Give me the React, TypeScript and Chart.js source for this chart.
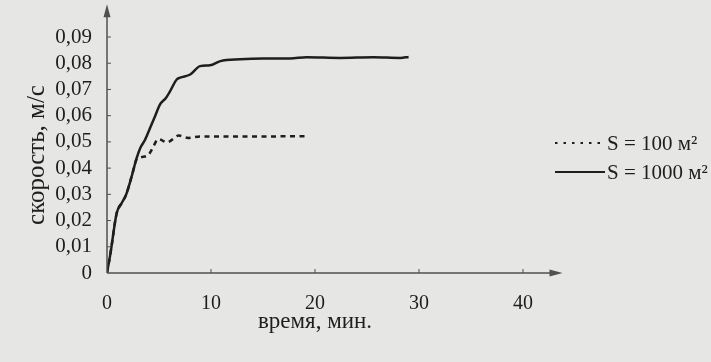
import React, { useEffect, useRef } from "react";
import { Chart, registerables } from "chart.js";

Chart.register(...registerables);

// время, мин.
const timeLarge = [0, 0.33, 0.93, 1.4, 1.83, 2.37, 2.85, 3.2, 3.66, 4.14, 4.62, 5.1, 5.68, 6.06, 6.7, 7.03, 8.0, 8.95, 9.9, 10.9, 12.8, 15, 17.6, 19.2, 22.4, 25.6, 28.2, 29];
const speedLarge = [0, 0.0074, 0.0228, 0.0266, 0.0298, 0.0368, 0.0438, 0.0477, 0.0508, 0.0553, 0.0598, 0.0643, 0.0668, 0.0693, 0.0738, 0.0745, 0.0757, 0.0789, 0.0792, 0.0808, 0.0815, 0.0818, 0.0818, 0.0823, 0.082, 0.0823, 0.082, 0.0824];

const timeSmall = [0, 0.33, 0.93, 1.4, 1.83, 2.37, 2.85, 3.3, 4.0, 4.3, 4.96, 5.77, 6.9, 7.8, 8.95, 10.2, 12.8, 16, 19.2];
const speedSmall = [0, 0.0074, 0.0228, 0.0266, 0.0298, 0.0368, 0.0434, 0.0442, 0.0451, 0.047, 0.0511, 0.0498, 0.0524, 0.0515, 0.0521, 0.0521, 0.0521, 0.0521, 0.0522];

const seriesLabels = ["S = 100 м²", "S = 1000 м²"];
const xTicks = [0, 10, 20, 30, 40];
const yTicks = [0, 0.01, 0.02, 0.03, 0.04, 0.05, 0.06, 0.07, 0.08, 0.09];
const xTitle = "время, мин.";
const yTitle = "скорость, м/с";

const INK = "#1e1e1e";
const AXIS = "#505050";
const BG = "#e6e6e4";
const FONT = "'Liberation Serif', 'Times New Roman', serif";

const axesPlugin = {
  id: "axesArrows",
  afterDraw(chart: any) {
    const { ctx, scales } = chart;
    const x = scales.x;
    const y = scales.y;
    const x0 = x.getPixelForValue(0);
    const y0 = y.getPixelForValue(0);
    const xEnd = x.getPixelForValue(43.8);
    const yEnd = y.getPixelForValue(0.1025);
    ctx.save();
    ctx.strokeStyle = AXIS;
    ctx.fillStyle = AXIS;
    ctx.lineWidth = 1.5;
    ctx.beginPath();
    ctx.moveTo(x0, y0);
    ctx.lineTo(xEnd - 6, y0);
    ctx.moveTo(x0, y0);
    ctx.lineTo(x0, yEnd + 6);
    ctx.stroke();
    // arrows
    ctx.beginPath();
    ctx.moveTo(xEnd, y0);
    ctx.lineTo(xEnd - 13, y0 - 3.5);
    ctx.lineTo(xEnd - 13, y0 + 3.5);
    ctx.closePath();
    ctx.fill();
    ctx.beginPath();
    ctx.moveTo(x0, yEnd);
    ctx.lineTo(x0 - 3.5, yEnd + 13);
    ctx.lineTo(x0 + 3.5, yEnd + 13);
    ctx.closePath();
    ctx.fill();
    // inward tick marks
    ctx.lineWidth = 1;
    ctx.beginPath();
    yTicks.forEach((v) => {
      if (v === 0) return;
      const py = y.getPixelForValue(v);
      ctx.moveTo(x0, py);
      ctx.lineTo(x0 + 4, py);
    });
    xTicks.forEach((v) => {
      if (v === 0) return;
      const px = x.getPixelForValue(v);
      ctx.moveTo(px, y0);
      ctx.lineTo(px, y0 - 4);
    });
    ctx.stroke();
    ctx.restore();
  },
};

const legendPlugin = {
  id: "sideLegend",
  afterDraw(chart: any) {
    const { ctx } = chart;
    const rows = [143, 172];
    ctx.save();
    ctx.font = `21px ${FONT}`;
    ctx.textBaseline = "middle";
    ctx.textAlign = "left";
    chart.data.datasets.forEach((ds: any, i: number) => {
      const yy = rows[i];
      ctx.strokeStyle = ds.borderColor;
      ctx.lineWidth = 2;
      ctx.setLineDash(i === 0 ? [2.5, 6] : []);
      ctx.beginPath();
      ctx.moveTo(555, yy);
      ctx.lineTo(605, yy);
      ctx.stroke();
      ctx.setLineDash([]);
      ctx.fillStyle = INK;
      ctx.fillText(ds.label, 607, yy + 1);
    });
    ctx.restore();
  },
};

export default function App() {
  const ref = useRef<HTMLCanvasElement | null>(null);

  useEffect(() => {
    if (!ref.current) return;
    const chart = new Chart(ref.current, {
      type: "line",
      data: {
        datasets: [
          {
            label: seriesLabels[0],
            data: timeSmall.map((t, i) => ({ x: t, y: speedSmall[i] })),
            borderColor: INK,
            borderWidth: 2.5,
            borderDash: [5, 4.5],
            pointRadius: 0,
            fill: false,
            cubicInterpolationMode: "monotone",
          },
          {
            label: seriesLabels[1],
            data: timeLarge.map((t, i) => ({ x: t, y: speedLarge[i] })),
            borderColor: INK,
            borderWidth: 2.5,
            pointRadius: 0,
            fill: false,
            cubicInterpolationMode: "monotone",
          },
        ],
      },
      options: {
        animation: false,
        responsive: false,
        layout: { padding: { top: 37, right: 188, left: 0, bottom: 0 } },
        plugins: {
          legend: { display: false },
          tooltip: { enabled: false },
        },
        scales: {
          x: {
            type: "linear",
            min: 0,
            max: 40,
            afterFit: (s: any) => {
              s.height = 89;
            },
            afterBuildTicks: (s: any) => {
              s.ticks = xTicks.map((v) => ({ value: v }));
            },
            grid: { display: false, drawTicks: false },
            border: { display: false },
            ticks: {
              autoSkip: false,
              maxRotation: 0,
              padding: 19,
              color: INK,
              font: { family: FONT, size: 20 },
              callback: (v: any) => String(v),
            },
            title: {
              display: true,
              text: xTitle,
              color: INK,
              font: { family: FONT, size: 23 },
              padding: { top: 0, bottom: 26 },
            },
          },
          y: {
            type: "linear",
            min: 0,
            max: 0.09,
            afterFit: (s: any) => {
              s.width = 107;
            },
            afterBuildTicks: (s: any) => {
              s.ticks = yTicks.map((v) => ({ value: v }));
            },
            grid: { display: false, drawTicks: false },
            border: { display: false },
            ticks: {
              autoSkip: false,
              padding: 15,
              color: INK,
              font: { family: FONT, size: 21 },
              callback: (v: any) => (Number(v) === 0 ? "0" : Number(v).toFixed(2).replace(".", ",")),
            },
            title: {
              display: true,
              text: yTitle,
              color: INK,
              font: { family: FONT, size: 25 },
              padding: { top: 22, bottom: 0 },
            },
          },
        },
      },
      plugins: [axesPlugin, legendPlugin],
    });
    return () => chart.destroy();
  }, []);

  return (
    <div style={{ position: "fixed", left: 0, top: 0, width: 711, height: 362, background: BG, overflow: "hidden" }}>
      <canvas ref={ref} width={711} height={362} style={{ display: "block", width: 711, height: 362 }} />
    </div>
  );
}
